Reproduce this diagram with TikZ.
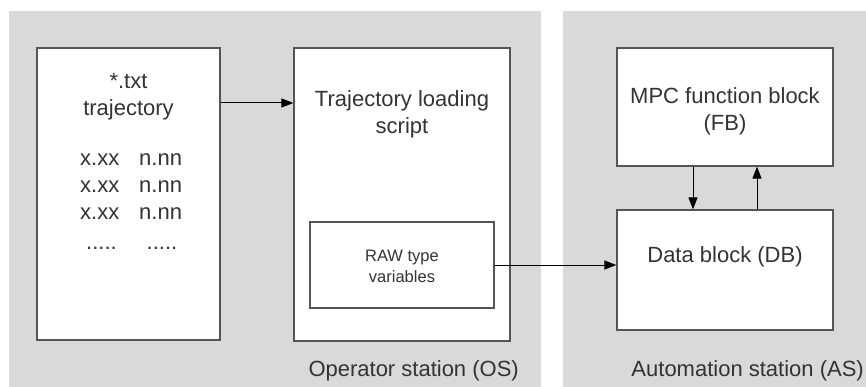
\documentclass[tikz,border=0pt]{standalone}
\usepackage{fontspec}
\setmainfont{Liberation Sans}
\usetikzlibrary{arrows.meta}
\definecolor{panelgray}{HTML}{D9D9D9}
\definecolor{edgegray}{HTML}{555555}
\definecolor{txtgray}{HTML}{333333}
\begin{document}
\begin{tikzpicture}[x=1pt,y=-1pt,
  box/.style={draw=edgegray,line width=1.2pt,fill=white,rectangle,inner sep=0pt},
  lbl/.style={text=txtgray,font=\fontsize{22}{27}\selectfont,align=center,inner sep=0pt},
  small/.style={text=txtgray,font=\fontsize{16.5}{21}\selectfont,align=center,inner sep=0pt},
  arr/.style={draw=black,line width=1pt,-{Triangle[length=12pt,width=9pt]}}]
\useasboundingbox (0,0) rectangle (866,387);
\fill[white] (0,0) rectangle (866,387);
\fill[panelgray] (9,11) rectangle (541,387);
\fill[panelgray] (563,11) rectangle (866,387);
% boxes
\node[box,minimum width=183pt,minimum height=292pt] (txt) at (128.5,194) {};
\node[box,minimum width=216pt,minimum height=293pt] (script) at (402,194.5) {};
\node[box,minimum width=184pt,minimum height=86pt] (raw) at (402,265) {};
\node[box,minimum width=216pt,minimum height=118pt] (mpc) at (725,107) {};
\node[box,minimum width=216pt,minimum height=120pt] (db) at (725,270) {};
% texts
\node[lbl] (ttxt) at (128.5,97) {*.txt\\trajectory};
\node[lbl,anchor=west] (xcol) at (80,187) {x.xx\\x.xx\\x.xx};
\node[lbl,anchor=west] (ncol) at (139,187) {n.nn\\n.nn\\n.nn};
\node[lbl,anchor=base] (d1) at (101.5,249) {.....};
\node[lbl,anchor=base] (d2) at (162,249) {.....};
\node[lbl] (tscript) at (402,114) {Trajectory loading\\script};
\node[small] (traw) at (402,266) {RAW type\\variables};
\node[lbl] (tmpc) at (725,111) {MPC function block\\(FB)};
\node[lbl] (tdb) at (725,257) {Data block (DB)};
\node[lbl,anchor=east] (tos) at (519,371) {Operator station (OS)};
\node[lbl,anchor=east] (tas) at (864,371) {Automation station (AS)};
% connectors
\coordinate (r1) at (0,103);
\coordinate (cd) at (693,0);
\coordinate (cu) at (757,0);
\draw[arr] (txt.east |- r1) -- (script.west |- r1);
\draw[arr] (raw.east) -- (db.west |- raw.east);
\draw[arr] (mpc.south -| cd) -- (db.north -| cd);
\draw[arr] (db.north -| cu) -- (mpc.south -| cu);
\end{tikzpicture}
\end{document}
